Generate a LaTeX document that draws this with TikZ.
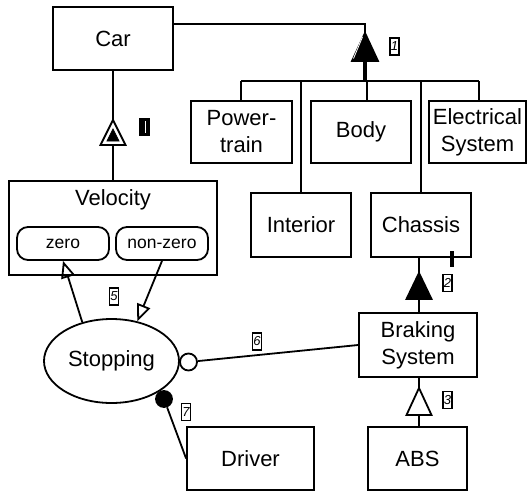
\documentclass[tikz,border=0pt]{standalone}
\usepackage{fontspec}
\setmainfont{Liberation Sans}
\usetikzlibrary{arrows.meta,shapes.geometric}

\tikzset{
  objeto/.style={draw, rectangle, minimum width=100, minimum height=63,
    inner sep=1pt, align=center, font=\fontsize{22}{27}\selectfont},
  estado/.style={draw, rounded corners=11, minimum width=92, minimum height=33,
    inner sep=1pt, font=\fontsize{17.5}{20}\selectfont},
  etiqueta/.style={draw, line width=1.2pt, minimum width=9, minimum height=17,
    inner sep=0pt, font=\fontsize{13}{13}\selectfont\itshape},
  flecha/.style={-{Triangle[open, length=17pt, width=14pt]}},
}

\begin{document}
\begin{tikzpicture}[x=1pt, y=-1pt, line width=1.8pt]
  \useasboundingbox (0,0) rectangle (527,491);
  % objetos
  \node[objeto, minimum width=120] (car) at (113,38.5) {Car};
  \node[objeto, minimum width=101, minimum height=62] (power) at (241.5,132) {Power-\\train};
  \node[objeto, minimum height=62] (body) at (361,132) {Body};
  \node[objeto, minimum width=97, minimum height=62] (elec) at (477.5,132) {Electrical\\System};
  \node[objeto, minimum height=64] (interior) at (301,225) {Interior};
  \node[objeto, minimum height=64] (chassis) at (421,225) {Chassis};
  \node[objeto, minimum width=118, minimum height=64] (braking) at (418,345) {Braking\\System};
  \node[objeto, minimum width=127] (driver) at (250.5,458.5) {Driver};
  \node[objeto, minimum width=99] (abs) at (417.5,458.5) {ABS};
  % velocidad y sus estados
  \node[objeto, minimum width=208, minimum height=94] (vel) at (113,228) {};
  \node[font=\fontsize{22}{27}\selectfont] (veltitulo) at (113,200) {Velocity};
  \node[estado] (zero) at (63,243.5) {zero};
  \node[estado] (nonzero) at (162,243.5) {non-zero};
  % proceso
  \node[draw, ellipse, minimum width=135, minimum height=84,
    font=\fontsize{22}{27}\selectfont] (stop) at (111.5,361) {Stopping};
  % agregacion: Car y sus partes
  \coordinate (esq1) at (365,24);
  \coordinate (agg1) at (365,33);
  \draw (car.east |- esq1) -- (esq1) -- (agg1);
  \draw[fill=black] (agg1) -- ++(13,28) -- ++(-26,0) -- cycle;
  \draw[white, line width=0.8pt] (362.5,37) -- (353.5,58.5);
  \coordinate (barra) at (365,81);
  \draw[line width=3.5pt] (365,61) -- (barra);
  \coordinate (b1) at (241,81);
  \coordinate (b2) at (301,81);
  \coordinate (b3) at (367,81);
  \coordinate (b4) at (421,81);
  \coordinate (b5) at (479,81);
  \draw (b1) -- (b5);
  \draw (b1) -- (b1 |- power.north);
  \draw (b2) -- (b2 |- interior.north);
  \draw (b3) -- (b3 |- body.north);
  \draw (b4) -- (b4 |- chassis.north);
  \draw (b5) -- (b5 |- elec.north);
  \node[etiqueta] (t1) at (394.5,46.5) {1};
  % exhibicion: Car y Velocity
  \coordinate (exh) at (113,120);
  \draw (car.south) -- (exh);
  \draw[fill=white] (exh) -- ++(12.5,25) -- ++(-25,0) -- cycle;
  \draw[fill=black, line width=0.8pt] (113,129) -- ++(6,12) -- ++(-12,0) -- cycle;
  \draw (113,145) -- (vel.north);
  \node[etiqueta, fill=black] (t4) at (144.5,127) {};
  \draw[white, line width=0.6pt] (145,121) -- (145,133);
  % agregacion: Chassis y Braking
  \coordinate (agg2) at (419,273);
  \draw (chassis.south -| agg2) -- (agg2);
  \draw[fill=black] (agg2) -- ++(12.5,26) -- ++(-25,0) -- cycle;
  \draw (419,299) -- (braking.north -| agg2);
  \draw[line width=3.5pt] (452,251) -- (452,267);
  \node[etiqueta] (t2) at (447.5,283) {2};
  % generalizacion: ABS
  \coordinate (gen) at (419,388);
  \draw (braking.south -| gen) -- (gen);
  \draw[fill=white] (gen) -- ++(12.5,27) -- ++(-25,0) -- cycle;
  \draw (419,415) -- (abs.north -| gen);
  \node[etiqueta] (t3) at (447.5,400) {3};
  % efectos sobre los estados
  \draw[flecha] (stop.127) -- (zero.south);
  \draw[flecha] (nonzero.south) -- (stop.57);
  \node[etiqueta] (t5) at (114,296.5) {5};
  % instrumento y agente
  \node[draw, circle, minimum size=17, inner sep=0pt] (instr) at (188.5,362) {};
  \draw (instr) -- (braking.west);
  \node[etiqueta] (t6) at (257,341.5) {6};
  \node[draw, circle, fill=black, minimum size=16, inner sep=0pt] (agente) at (164,399) {};
  \draw (agente) -- (driver.west);
  \node[etiqueta] (t7) at (186,412) {7};
\end{tikzpicture}
\end{document}
